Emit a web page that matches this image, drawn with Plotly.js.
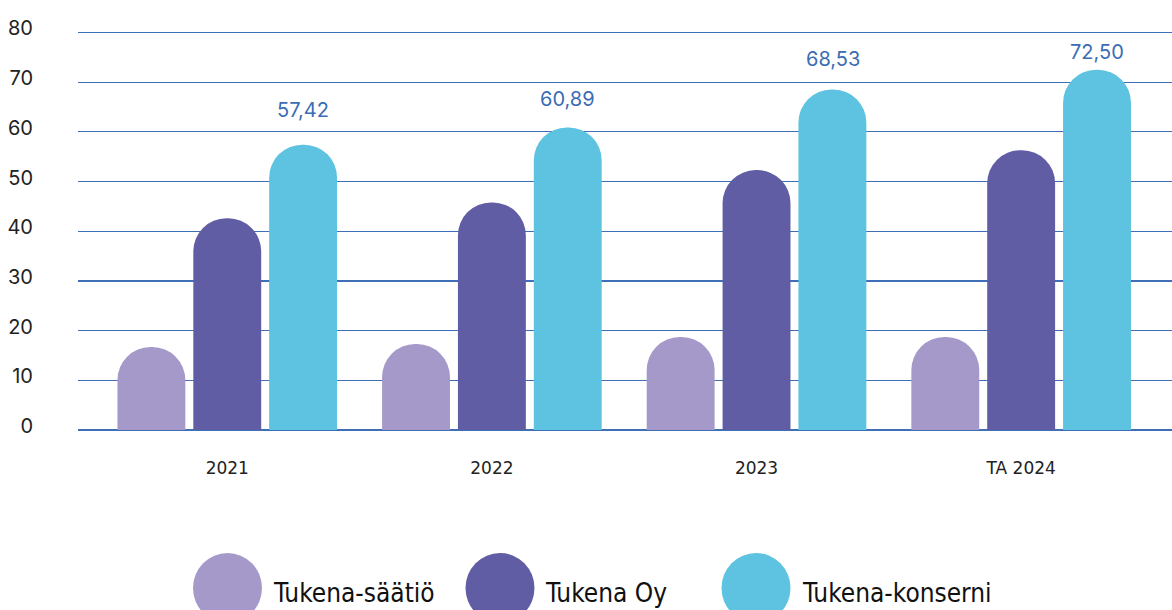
<!DOCTYPE html>
<html>
<head>
<meta charset="utf-8">
<script src="https://cdn.plot.ly/plotly-3.0.1.min.js"></script>
<style>html,body{margin:0;padding:0;background:#fff;}#chart{width:1172px;height:610px;}</style>
</head>
<body>
<div id="chart"></div>
<script>
const categories = ["2021", "2022", "2023", "TA 2024"];
const seriesNames = ["Tukena-säätiö", "Tukena Oy", "Tukena-konserni"];
const saatio = [16.7, 17.3, 18.7, 18.7];
const oy = [42.6, 45.8, 52.3, 56.3];
const konserni = [57.42, 60.89, 68.53, 72.50];
const yTicks = [0, 10, 20, 30, 40, 50, 60, 70, 80];

const colors = ["#a499c9", "#615da5", "#5dc3e0"];
const seriesValues = [saatio, oy, konserni];

const traces = seriesValues.map((vals, i) => ({
  type: "bar",
  x: categories,
  y: vals,
  name: seriesNames[i],
  marker: { color: colors[i], cornerradius: "50%" },
  hoverinfo: "none",
  showlegend: false
}));

const fmt = v => v.toFixed(2).replace(".", ",");
const labelLift = [35, 28, 30, 18];

const annotations = konserni.map((v, i) => ({
  x: i, y: v, xref: "x", yref: "y",
  xshift: 76, yshift: labelLift[i],
  text: fmt(v), showarrow: false,
  xanchor: "center", yanchor: "middle",
  font: { family: "Inter, 'Liberation Sans', sans-serif", size: 20, color: "#3b6cb4" }
}));

// custom legend (large circles)
const plotL = 78, plotW = 1094, plotT = 30, plotH = 400;
const legendX = [227.5, 500, 756];
const legendTextX = [271, 543, 800];
const legendCY = 588;
const shapes = [];
seriesNames.forEach((n, i) => {
  const ax = (legendX[i] - plotL) / plotW;
  const ay = (plotT + plotH - legendCY) / plotH;
  shapes.push({
    type: "circle", xref: "paper", yref: "paper",
    xsizemode: "pixel", ysizemode: "pixel",
    xanchor: ax, yanchor: ay,
    x0: -34.5, x1: 34.5, y0: -35, y1: 35,
    fillcolor: colors[i], line: { width: 0 }
  });
  annotations.push({
    x: (legendTextX[i] - plotL) / plotW,
    y: (plotT + plotH - 593) / plotH,
    xref: "paper", yref: "paper",
    text: n, showarrow: false, xanchor: "left", yanchor: "middle",
    font: { family: "'Liberation Sans Narrow', 'DejaVu Sans Condensed', 'Roboto', sans-serif", size: 26, color: "#111" }
  });
});

const layout = {
  width: 1172, height: 610,
  margin: { l: 78, r: 0, t: 30, b: 180, pad: 0 },
  paper_bgcolor: "#fff", plot_bgcolor: "#fff",
  barmode: "group",
  bargap: 0.14,
  bargroupgap: 0.105,
  showlegend: false,
  separators: ", ",
  xaxis: {
    type: "category",
    range: [-0.564, 3.57],
    showgrid: false, zeroline: false, showline: false,
    ticks: "",
    ticklabelstandoff: 26,
    tickfont: { family: "'DejaVu Sans', sans-serif", size: 17, color: "#222" },
    fixedrange: true
  },
  yaxis: {
    range: [0, 80.5],
    tickvals: yTicks,
    ticktext: yTicks.map(String),
    showgrid: true, gridcolor: "#3f6fb6", gridwidth: 1.2,
    zeroline: true, zerolinecolor: "#3f6fb6", zerolinewidth: 1.2,
    showline: false, ticks: "",
    ticklabelstandoff: 44,
    ticklabelshift: -4,
    tickfont: { family: "Inter, 'Liberation Sans', sans-serif", size: 20, color: "#222" },
    fixedrange: true
  },
  annotations: annotations,
  shapes: shapes
};

Plotly.newPlot("chart", traces, layout, { displayModeBar: false, staticPlot: true });
</script>
</body>
</html>
